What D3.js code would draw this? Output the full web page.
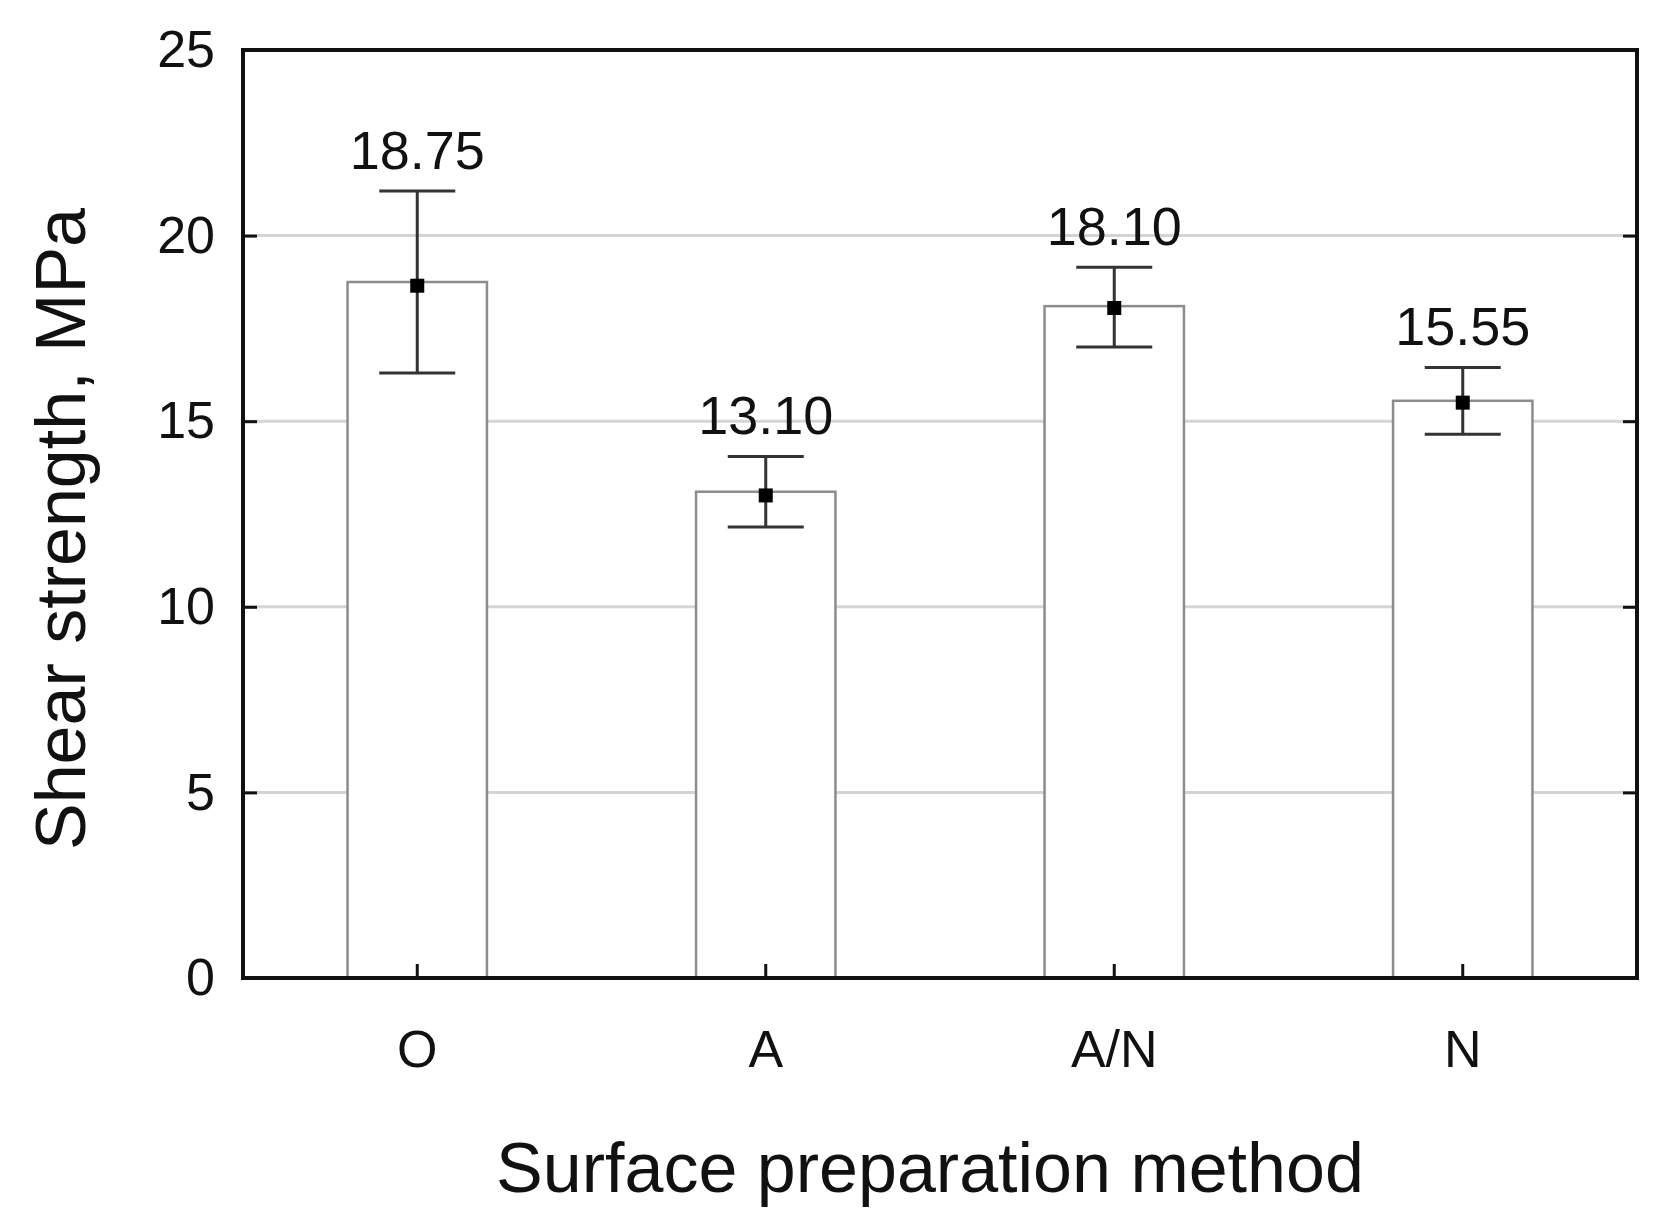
<html lang="en">
  <head>
    <meta charset="utf-8">
    <script src="https://d3js.org/d3.v7.js"></script>
    <style>body{margin:0;background:#fff}</style>
  </head>
  <body>
    <svg id="chart" width="1665" height="1223"></svg>
    <script>
      var categories = ["O", "A", "A/N", "N"];
      var barValues = [18.75, 13.10, 18.10, 15.55];
      var means = [18.65, 13.0, 18.05, 15.5];
      var upper = [21.2, 14.05, 19.15, 16.45];
      var lower = [16.3, 12.15, 17.0, 14.65];
      var labels = ["18.75", "13.10", "18.10", "15.55"];
      var yTicks = [0, 5, 10, 15, 20, 25];

      var svg = d3.select("svg#chart");
      var margin = {top: 50, right: 28, bottom: 245, left: 243};
      var width = +svg.attr("width") - margin.left - margin.right;
      var height = +svg.attr("height") - margin.top - margin.bottom;
      var g = svg.append("g").attr("transform", `translate(${margin.left}, ${margin.top})`);
      var font = "'Liberation Sans', Arial, sans-serif";

      var x = d3.scaleBand().domain(categories).range([0, width]).paddingInner(0.6).paddingOuter(0.3);
      var y = d3.scaleLinear().domain([0, 25]).range([height, 0]);

      // grid
      g.selectAll("line.grid").data(yTicks.filter(d => d > 0 && d < 25)).enter().append("line")
        .attr("x1", 0).attr("x2", width)
        .attr("y1", d => y(d)).attr("y2", d => y(d))
        .attr("stroke", "#d4d4d4").attr("stroke-width", 3);

      // bars
      g.selectAll("rect.bar").data(categories).enter().append("rect")
        .attr("x", d => x(d)).attr("width", x.bandwidth())
        .attr("y", (d, i) => y(barValues[i])).attr("height", (d, i) => height - y(barValues[i]))
        .attr("fill", "#fff").attr("stroke", "#8c8c8c").attr("stroke-width", 2.5);

      // error bars
      var cap = 38;
      categories.forEach(function(c, i) {
        var cx = x(c) + x.bandwidth() / 2;
        var eb = g.append("g").attr("stroke", "#333").attr("stroke-width", 3);
        eb.append("line").attr("x1", cx).attr("x2", cx).attr("y1", y(upper[i])).attr("y2", y(lower[i]));
        eb.append("line").attr("x1", cx - cap).attr("x2", cx + cap).attr("y1", y(upper[i])).attr("y2", y(upper[i]));
        eb.append("line").attr("x1", cx - cap).attr("x2", cx + cap).attr("y1", y(lower[i])).attr("y2", y(lower[i]));
        g.append("rect").attr("x", cx - 7).attr("y", y(means[i]) - 7).attr("width", 14).attr("height", 14).attr("fill", "#000");
        g.append("text").attr("x", cx).attr("y", y(upper[i]) - 22)
          .attr("text-anchor", "middle").attr("font-family", font).attr("font-size", 54)
          .attr("fill", "#111").text(labels[i]);
      });

      // axes
      var left = g.append("g").call(d3.axisLeft(y).tickValues(yTicks).tickSize(-14).tickPadding(28));
      var right = g.append("g").attr("transform", `translate(${width},0)`)
        .call(d3.axisRight(y).tickValues(yTicks).tickSize(-14).tickFormat(""));
      var bottom = g.append("g").attr("transform", `translate(0,${height})`)
        .call(d3.axisBottom(x).tickSize(-14).tickPadding(52));
      [left, right, bottom].forEach(function(a) {
        a.select(".domain").remove();
        a.selectAll("line").attr("stroke", "#111").attr("stroke-width", 3);
        a.selectAll("text").attr("font-family", font).attr("font-size", 52).attr("fill", "#111");
      });
      g.append("rect").attr("width", width).attr("height", height)
        .attr("fill", "none").attr("stroke", "#111").attr("stroke-width", 4);

      svg.append("text").attr("x", margin.left + width / 2 - 10).attr("y", 1192)
        .attr("text-anchor", "middle").attr("font-family", font).attr("font-size", 70)
        .attr("fill", "#111").text("Surface preparation method");
      svg.append("text").attr("transform", `translate(85, ${margin.top + height / 2 + 15}) rotate(-90)`)
        .attr("text-anchor", "middle").attr("font-family", font).attr("font-size", 70)
        .attr("fill", "#111").text("Shear strength, MPa");
    </script>
  </body>
</html>
